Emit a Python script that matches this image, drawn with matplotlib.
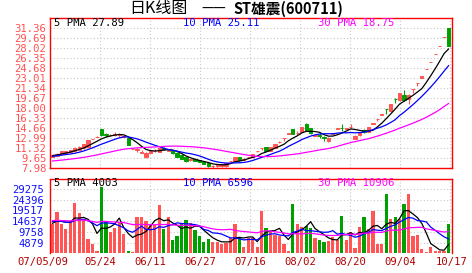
import matplotlib
matplotlib.use('Agg')
import matplotlib.pyplot as plt
import matplotlib.transforms as mtransforms
import numpy as np
import pandas as pd

# ---------------- data ----------------
opens = [9.95, 10.10, 10.30, 10.50, 10.65, 10.90, 11.05, 11.30, 11.60, 12.90,
         13.20, 14.50, 13.70, 13.50, 13.60, 13.60, 13.20, 12.98, 11.28, 11.10,
         10.60, 9.80, 10.60, 10.85, 10.75, 11.30, 10.90, 10.80, 10.60, 10.20,
         9.80, 9.30, 9.60, 9.30, 9.10, 8.80, 8.30, 8.30, 8.30, 8.30,
         9.15, 9.20, 9.90, 9.35, 9.85, 9.80, 10.80, 11.40, 11.48, 10.90,
         11.45, 12.30, 13.05, 13.75, 14.54, 13.80, 14.10, 15.40, 14.65, 13.45,
         13.50, 13.20, 12.50, 13.75, 14.55, 14.75, 14.60, 14.80, 12.90, 13.50,
         14.40, 14.10, 15.40, 16.20, 16.95, 17.85, 17.50, 19.60, 19.40, 20.30,
         19.50, 21.21, 22.27, 23.10, 24.56, 25.79, 27.08, 28.43, 29.85, 31.34]
highs = [10.30, 10.50, 10.90, 10.90, 11.10, 11.50, 11.65, 12.05, 12.75, 12.95,
         13.30, 14.60, 13.80, 13.65, 14.10, 13.90, 13.35, 13.00, 11.28, 11.35,
         11.00, 10.65, 10.95, 11.20, 11.45, 11.50, 11.10, 10.85, 10.65, 10.30,
         9.90, 9.60, 9.65, 9.35, 9.15, 8.85, 8.60, 8.75, 8.75, 8.85,
         9.25, 9.95, 9.95, 9.65, 9.95, 10.40, 10.90, 11.45, 11.55, 11.60,
         12.05, 12.50, 13.10, 13.85, 14.60, 14.20, 14.95, 15.50, 14.70, 13.60,
         13.90, 13.30, 13.15, 13.90, 14.70, 15.30, 14.75, 15.40, 13.60, 13.95,
         14.60, 14.85, 15.55, 16.25, 17.05, 17.90, 18.75, 19.65, 20.60, 21.10,
         20.40, 21.21, 22.27, 23.39, 24.56, 25.79, 27.08, 28.43, 29.85, 31.34]
lows = [9.90, 10.05, 10.25, 10.45, 10.60, 10.80, 11.00, 11.25, 11.55, 12.85,
        13.15, 13.40, 13.20, 13.45, 13.30, 13.20, 13.15, 11.85, 11.28, 10.75,
        10.50, 9.75, 10.55, 10.70, 10.70, 11.00, 10.85, 10.45, 9.90, 9.55,
        9.10, 9.25, 9.15, 8.95, 8.65, 8.25, 8.10, 8.25, 8.25, 8.25,
        9.10, 9.15, 9.25, 9.30, 9.80, 9.75, 10.75, 11.00, 10.85, 10.85,
        11.40, 12.25, 12.50, 13.70, 13.65, 13.60, 14.05, 14.35, 13.75, 13.40,
        13.00, 12.60, 12.40, 13.70, 14.50, 14.20, 14.55, 14.75, 12.85, 13.45,
        13.90, 14.05, 15.35, 15.90, 16.90, 17.00, 17.30, 18.90, 19.30, 19.30,
        18.70, 20.60, 21.70, 23.00, 24.56, 25.79, 27.08, 28.43, 29.85, 28.36]
closes = [10.25, 10.45, 10.85, 10.85, 11.05, 11.30, 11.60, 12.00, 12.70, 12.95,
          13.25, 13.55, 13.50, 13.60, 13.75, 13.70, 13.30, 11.87, 11.28, 11.15,
          10.75, 10.60, 10.90, 10.95, 11.40, 11.20, 11.05, 10.50, 9.92, 9.60,
          9.15, 9.55, 9.20, 9.00, 8.70, 8.30, 8.40, 8.70, 8.70, 8.80,
          9.20, 9.90, 9.30, 9.60, 9.95, 10.35, 10.90, 11.43, 10.87, 11.50,
          12.00, 12.45, 13.10, 13.80, 13.70, 13.95, 14.90, 14.40, 13.80, 13.55,
          13.30, 13.00, 13.10, 13.85, 14.65, 14.65, 14.70, 14.90, 13.40, 13.90,
          14.00, 14.80, 15.50, 16.25, 17.05, 17.80, 18.70, 19.50, 20.50, 19.40,
          20.20, 21.21, 22.27, 23.39, 24.56, 25.79, 27.08, 28.43, 29.85, 28.36]
volumes = [13300, 18600, 13400, 11000, 14800, 22700, 18200, 15000, 6600, 4300,
           1100, 30300, 14500, 9700, 11300, 14400, 8900, 1000, 400, 16700,
           16700, 14800, 13300, 13000, 21900, 11200, 16700, 6200, 8000, 14000,
           15200, 13600, 10700, 8100, 5000, 6500, 5300, 5100, 4200, 4800,
           6900, 13500, 6900, 2700, 7000, 7000, 3000, 19200, 11700, 9800,
           8200, 7900, 4300, 1100, 22400, 13300, 12000, 12500, 11700, 6800,
           6200, 5200, 5400, 7600, 6200, 17200, 6200, 9600, 2500, 12000,
           16700, 11200, 19100, 4400, 4400, 27000, 15500, 16700, 15500, 22300,
           27000, 8000, 8500, 1900, 600, 3000, 1200, 1100, 1200, 13500]
# closes / volumes before the visible window (needed for the moving averages)
prior_close = [8.5, 8.6, 8.4, 8.5, 8.7, 8.6, 8.8, 8.7, 8.9, 8.8,
               8.6, 8.7, 8.9, 9.0, 8.9, 9.1, 9.0, 9.2, 9.1, 9.3,
               9.6, 9.8, 9.9, 10.1, 10.0, 9.9, 10.0, 10.1, 10.2]
prior_volume = [15000, 16500, 13000, 17000, 14500, 15500, 16000, 13500, 15000, 14000,
                16000, 15500, 14500, 15000, 17000, 13000, 15500, 14000, 16500, 15000,
                16000, 15000, 14500, 16500, 14000, 13500, 14000, 13000, 14500]

date_labels = ["07/05/09", "05/24", "06/11", "06/27", "07/16", "08/02", "08/20", "09/04", "10/17"]
price_ticks = ["7.98", "9.65", "11.32", "12.99", "14.66", "16.33", "18.00", "19.67",
               "21.34", "23.01", "24.68", "26.35", "28.02", "29.69", "31.36"]
vol_ticks = ["4879", "9758", "14637", "19517", "24396", "29275"]
price_legend = ["5 PMA 27.89", "10 PMA 25.11", "30 PMA 18.75"]
vol_legend = ["5 PMA 4003", "10 PMA 6596", "30 PMA 10906"]
title_left = "日K线图"
title_dash = "——"
title_right = "ST雄震(600711)"

# ---------------- style / layout ----------------
W, H = 472, 273
RED_UP = '#ff5555'
GREEN_DN = '#00a000'
MA_COLORS = ['#000000', '#0000ff', '#ff00ff']
MONO = 'DejaVu Sans Mono'
CJK = ['Noto Sans CJK SC', 'DejaVu Sans']
GRID = dict(color='#c8c8c8', linestyle=(0, (1, 2)), linewidth=0.8)

def px2i(px):
    return (px - 52.5) / 4.45

fig = plt.figure(figsize=(W / 100, H / 100), dpi=100)
ax1 = fig.add_axes([50 / W, 1 - 168.3 / H, 402 / W, 150 / H])
ax2 = fig.add_axes([50 / W, 1 - 253.3 / H, 402 / W, 74.6 / H])

n = len(closes)
x = np.arange(n)
o = np.array(opens); c = np.array(closes)
h = np.array(highs); l = np.array(lows)
up = c >= o
cols = [RED_UP if u else GREEN_DN for u in up]

# ---------------- price panel ----------------
ax1.set_xlim(px2i(50), px2i(452))
ax1.set_ylim(7.98, 7.98 + 15 * 1.67)
ax1.vlines(x, l, h, colors=cols, linewidth=0.8, zorder=2)
body_low = np.minimum(o, c)
body_h = np.abs(c - o)
ax1.bar(x, body_h, bottom=body_low, width=0.72, color=cols, edgecolor=cols,
        linewidth=0.7, zorder=3)

full_c = pd.Series(prior_close + closes)
for win, col in zip([5, 10, 30], MA_COLORS):
    ma = full_c.rolling(win).mean().iloc[len(prior_close):].to_numpy()
    ax1.plot(x, ma, color=col, linewidth=0.9, zorder=4)

ax1.set_yticks([float(t) for t in price_ticks])
ax1.set_yticklabels(price_ticks, fontfamily=MONO, fontsize=7.6, color='#ff5050')
grid_px = [100, 150, 200, 250, 300, 350, 400, 450]
ax1.set_xticks([px2i(p) for p in grid_px])
ax1.set_xticklabels([])
ax1.tick_params(length=0, pad=2.5)
ax1.grid(True, **GRID)
ax1.set_axisbelow(True)
for s in ax1.spines.values():
    s.set_color('#ff0000'); s.set_linewidth(1.0)
ax1.spines['left'].set_linestyle((0, (1, 1)))

# ---------------- volume panel ----------------
ax2.set_xlim(px2i(50), px2i(452))
ax2.set_ylim(0, 33950)
ax2.bar(x, volumes, width=0.74, color=cols, linewidth=0, zorder=2)
full_v = pd.Series(prior_volume + volumes, dtype=float)
for win, col in zip([5, 10, 30], MA_COLORS):
    ma = full_v.rolling(win).mean().iloc[len(prior_volume):].to_numpy()
    ax2.plot(x, ma, color=col, linewidth=0.9, zorder=4)
ax2.set_yticks([int(t) for t in vol_ticks])
ax2.set_yticklabels(vol_ticks, fontfamily=MONO, fontsize=7.6, color='#1010ff')
ax2.set_xticks([px2i(p) for p in grid_px])
ax2.set_xticklabels([])
ax2.tick_params(length=0, pad=4.5)
ax2.grid(True, **GRID)
ax2.set_axisbelow(True)
for s in ax2.spines.values():
    s.set_color('#ff0000'); s.set_linewidth(1.0)
ax2.spines['left'].set_linestyle((0, (1, 1)))
ax2.spines['bottom'].set_visible(False)

# date labels
label_px = [43, 100, 150, 200, 250, 300, 350, 400, 451.5]
trans = mtransforms.blended_transform_factory(ax2.transData, fig.transFigure)
for lab, p in zip(date_labels, label_px):
    ax2.text(px2i(p), 1 - 262.5 / H, lab, transform=trans, ha='center', va='center',
             fontfamily=MONO, fontsize=7.6, color='#b00000', clip_on=False)

# legends
leg_px = [54, 183, 318]
for txt, p, col in zip(price_legend, leg_px, MA_COLORS):
    fig.text(p / W, 1 - 23.5 / H, txt, ha='left', va='center', fontfamily=MONO,
             fontsize=7.6, color=col)
for txt, p, col in zip(vol_legend, leg_px, MA_COLORS):
    fig.text(p / W, 1 - 183.5 / H, txt, ha='left', va='center', fontfamily=MONO,
             fontsize=7.6, color=col)

# title
fig.text(129 / W, 1 - 8.5 / H, title_left, ha='left', va='center', family=CJK,
         fontsize=11.5, color='#000000')
fig.text(201 / W, 1 - 8.5 / H, title_dash, ha='left', va='center', family=CJK,
         fontsize=10, color='#000000')
fig.text(233 / W, 1 - 8.5 / H, title_right, ha='left', va='center', family=CJK,
         fontsize=10.5, fontweight='bold', color='#000000')

fig.savefig('out.png', dpi=100)
